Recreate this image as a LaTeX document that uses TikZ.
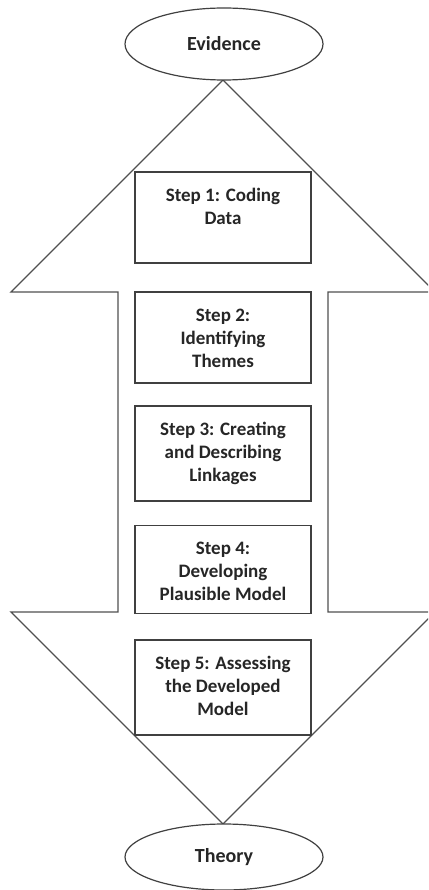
\documentclass[tikz,border=0pt]{standalone}
\usepackage{fontspec}
\setmainfont{Carlito}
\usetikzlibrary{shapes.geometric}
\definecolor{edge}{HTML}{505050}
\definecolor{boxedge}{HTML}{404040}
\definecolor{ink}{HTML}{262626}
\tikzset{
  endpoint/.style={ellipse, draw=boxedge, line width=1.2pt, minimum width=198pt,
    minimum height=#1, inner sep=0pt, font=\fontsize{20}{24}\selectfont\bfseries,
    text=ink, fill=white},
  stepbox/.style={draw=boxedge, line width=1.2pt, minimum width=176pt,
    minimum height=#1, inner sep=0pt, fill=white},
  steptext/.style={anchor=north, align=center, inner sep=0pt, text=ink,
    font=\fontsize{19}{23}\selectfont\bfseries},
  bigarrow/.style={draw=edge, line width=1.3pt, line join=miter}
}
\begin{document}
\begin{tikzpicture}[x=1pt, y=-1pt]
  \useasboundingbox (0,0) rectangle (428,890);
  % double-headed block arrow behind the steps
  \begin{scope}
    \clip (0,0) rectangle (428,890);
    \draw[bigarrow] (223,80) -- (11,292) -- (118,292) -- (118,612) -- (11,612)
      -- (223,824) -- (435,612) -- (328,612) -- (328,292) -- (435,292) -- cycle;
  \end{scope}
  % end points
  \node[endpoint=72pt] (evidence) at (224,44) {Evidence};
  \node[endpoint=66pt] (theory) at (224,857) {Theory};
  % step boxes
  \node[stepbox=91pt] (s1) at (223,217.5) {};
  \node[stepbox=91pt] (s2) at (223,337.5) {};
  \node[stepbox=95pt] (s3) at (223,453.5) {};
  \node[stepbox=88pt] (s4) at (223,569.5) {};
  \node[stepbox=95pt] (s5) at (223,687.5) {};
  \node[steptext] (t1) at ([yshift=-17pt]s1.north) {Step 1: Coding\\Data};
  \node[steptext] (t2) at ([yshift=-17pt]s2.north) {Step 2:\\Identifying\\Themes};
  \node[steptext] (t3) at ([yshift=-17pt]s3.north) {Step 3: Creating\\and Describing\\Linkages};
  \node[steptext] (t4) at ([yshift=-17pt]s4.north) {Step 4:\\Developing\\Plausible Model};
  \node[steptext] (t5) at ([yshift=-17pt]s5.north) {Step 5: Assessing\\the Developed\\Model};
\end{tikzpicture}
\end{document}
